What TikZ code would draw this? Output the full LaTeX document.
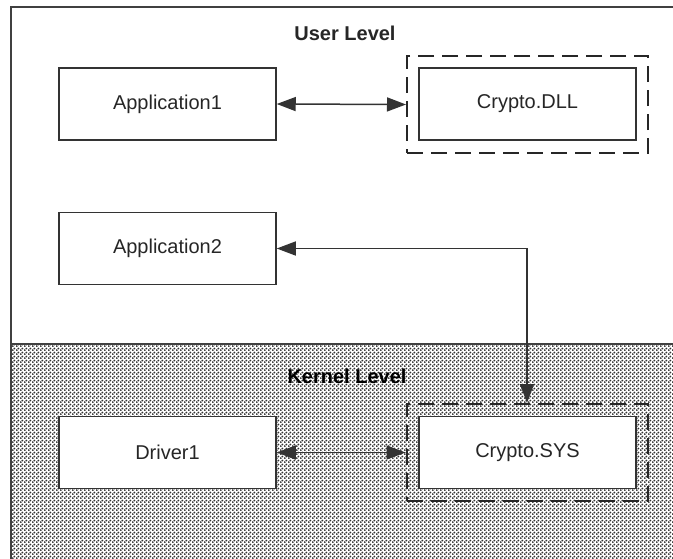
\documentclass[tikz,border=0pt]{standalone}
\usepackage{fontspec}
\setmainfont{Liberation Sans}
\usetikzlibrary{arrows.meta,patterns}

\pgfdeclarepatternformonly{kerneldots}{\pgfqpoint{0pt}{0pt}}{\pgfqpoint{4pt}{4pt}}{\pgfqpoint{4pt}{4pt}}{%
  \pgfpathcircle{\pgfqpoint{1pt}{1pt}}{1.25pt}
  \pgfpathcircle{\pgfqpoint{3pt}{3pt}}{1.25pt}
  \pgfusepath{fill}}

\begin{document}
\begin{tikzpicture}[x=1pt, y=-1pt,
  every node/.style={font=\fontsize{20}{24}\selectfont, text=black!85},
  box/.style={draw=black!80, line width=1.5pt, fill=white, inner sep=0pt,
    minimum width=217pt, minimum height=72pt},
  group/.style={draw=black!85, line width=2pt, dash pattern=on 16pt off 8pt,
    inner sep=0pt, minimum width=241pt, minimum height=97pt},
  link/.style={draw=black!80, line width=1.5pt,
    {Triangle[length=19pt,width=14pt]}-{Triangle[length=19pt,width=14pt]}}]
  \clip (0,0) rectangle (673,558);
  \fill[white] (0,0) rectangle (673,558);

  \fill[pattern=kerneldots, pattern color=black!80] (11,344) rectangle (690,575);
  \draw[black!75, line width=2pt] (11,344) -- (690,344);
  \draw[black!75, line width=2pt] (11,7) rectangle (690,575);

  \node[font=\fontsize{20}{24}\selectfont\bfseries] (user) at (345,33) {User Level};
  \node[font=\fontsize{20}{24}\selectfont\bfseries, text=black] (kernel) at (347,376) {Kernel Level};

  \node[box] (app1) at (167.5,104) {Application1};
  \node[box] (dll) at (527.5,104) {Crypto.DLL};
  \node[group] (dllgroup) at (527.5,104.5) {};

  \node[box] (app2) at (167.5,248.5) {Application2};

  \node[box] (drv) at (167.5,452.5) {Driver1};
  \node[box] (sys) at (527.5,452.5) {Crypto.SYS};
  \node[group] (sysgroup) at (527,452.5) {};

  \draw[link] (app1.east) -- (dllgroup.west);
  \draw[link] (app2.east) -| (sysgroup.north);
  \draw[link] (drv.east) -- (sysgroup.west);
\end{tikzpicture}
\end{document}
